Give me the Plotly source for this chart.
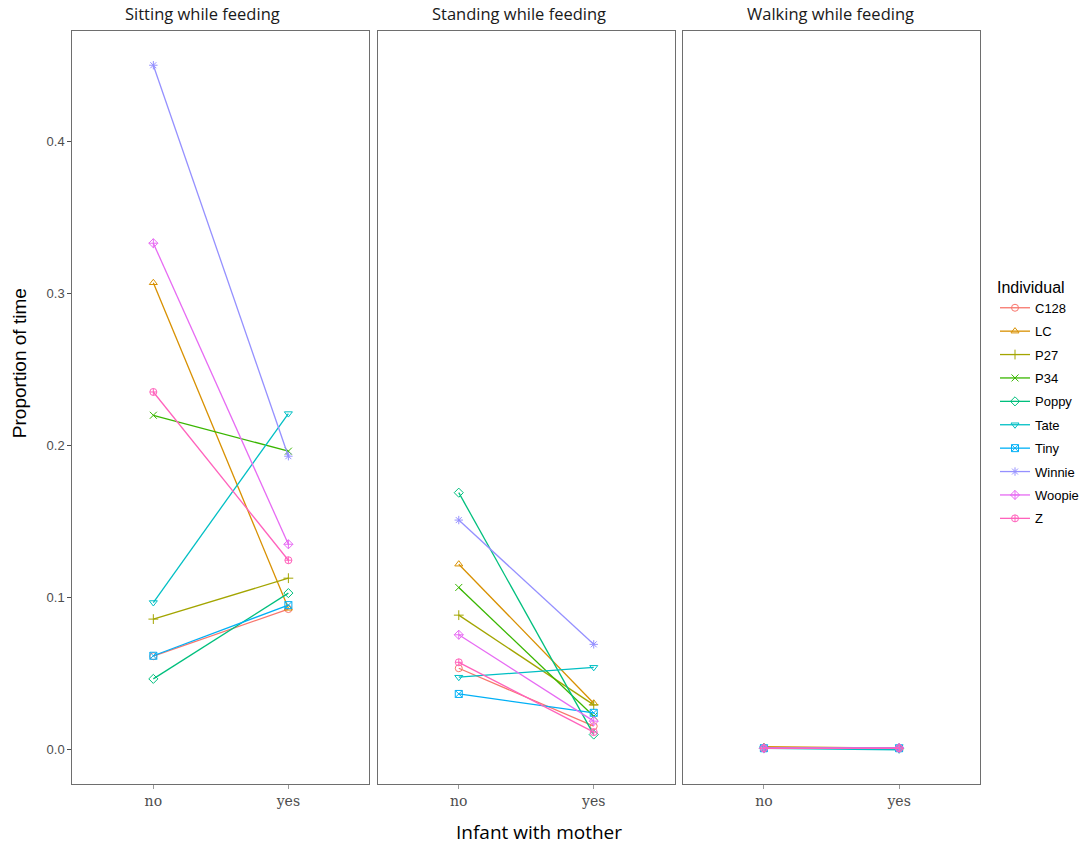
import plotly.graph_objects as go

individuals = ["C128", "LC", "P27", "P34", "Poppy", "Tate", "Tiny", "Winnie", "Woopie", "Z"]
colors = ["#F8766D", "#D89000", "#A3A500", "#39B600", "#00BF7D",
          "#00BFC4", "#00B0F6", "#9590FF", "#E76BF3", "#FF62BC"]
symbols = ["circle-open", "triangle-up-open", "cross-thin-open", "x-thin-open", "diamond-open",
           "triangle-down-open", "square-x-open", "asterisk-open", "diamond-cross-open", "circle-cross-open"]

panels = ["Sitting while feeding", "Standing while feeding", "Walking while feeding"]
infant = ["no", "yes"]
y_ticks = [0.0, 0.1, 0.2, 0.3, 0.4]
y_tick_labels = ["0.0", "0.1", "0.2", "0.3", "0.4"]

# proportion of time [no, yes] per individual
sitting = {
    "C128": [0.0615, 0.0925], "LC": [0.307, 0.093], "P27": [0.0859, 0.1128],
    "P34": [0.2199, 0.1963], "Poppy": [0.0466, 0.103], "Tate": [0.0968, 0.221],
    "Tiny": [0.0618, 0.0951], "Winnie": [0.450, 0.193], "Woopie": [0.333, 0.1351],
    "Z": [0.2352, 0.1246],
}
standing = {
    "C128": [0.0536, 0.0155], "LC": [0.122, 0.0306], "P27": [0.0885, 0.0295],
    "P34": [0.1067, 0.022], "Poppy": [0.169, 0.010], "Tate": [0.0477, 0.0542],
    "Tiny": [0.0367, 0.0243], "Winnie": [0.151, 0.0693], "Woopie": [0.0756, 0.0188],
    "Z": [0.0575, 0.0116],
}
walking = {
    "C128": [0.001, 0.001], "LC": [0.002, 0.001], "P27": [0.001, 0.001],
    "P34": [0.001, 0.001], "Poppy": [0.001, 0.001], "Tate": [0.001, 0.0],
    "Tiny": [0.001, 0.001], "Winnie": [0.001, 0.001], "Woopie": [0.001, 0.0012],
    "Z": [0.001, 0.001],
}
data_sets = [sitting, standing, walking]

fig = go.Figure()

for p, ds in enumerate(data_sets):
    xa = "x" if p == 0 else f"x{p+1}"
    ya = "y" if p == 0 else f"y{p+1}"
    for i, ind in enumerate(individuals):
        fig.add_trace(go.Scatter(
            x=infant, y=ds[ind], mode="lines+markers", name=ind,
            legendgroup=ind, showlegend=(p == 0),
            line=dict(color=colors[i], width=1.3),
            marker=dict(symbol=symbols[i], size=7, color=colors[i], line=dict(width=1, color=colors[i])),
            xaxis=xa, yaxis=ya,
        ))

W, H = 1084, 846
ml, mr, mt, mb = 72, 0, 31, 62
pw = W - ml - mr
ph = H - mt - mb
edges = [(72.3, 370.3), (378.7, 676.5), (684.5, 983.0)]
domains = [[(a - ml) / pw, (b - ml) / pw] for a, b in edges]
title_centers = [203, 520, 833]

axis_line = "#6E6E6E"
tickfont_x = dict(family="DejaVu Serif", size=14, color="#4D4D4D")
tickfont_y = dict(family="Liberation Sans", size=13, color="#4D4D4D")

layout = dict(
    width=W, height=H,
    margin=dict(l=ml, r=mr, t=mt, b=mb),
    paper_bgcolor="white", plot_bgcolor="white",
    showlegend=True,
    legend=dict(
        title=dict(text="Individual", font=dict(family="Liberation Sans", size=16, color="black")),
        font=dict(family="Liberation Sans", size=13, color="black"),
        x=(998 - ml) / pw, xanchor="left", y=(784 - 272) / ph, yanchor="top",
        tracegroupgap=3.5, itemwidth=30, bgcolor="rgba(0,0,0,0)",
    ),
)

for p in range(3):
    key = "" if p == 0 else str(p + 1)
    layout[f"xaxis{key}"] = dict(
        domain=domains[p], type="category", range=[-0.6, 1.6],
        showgrid=False, zeroline=False, showline=True, mirror=True,
        linecolor=axis_line, linewidth=1,
        ticks="outside", ticklen=4, tickcolor="#9A9A9A", tickwidth=1,
        tickfont=tickfont_x, anchor="y" + key, fixedrange=True,
    )
    layout[f"yaxis{key}"] = dict(
        domain=[0, 1], range=[-0.0225, 0.4725],
        showgrid=False, zeroline=False, showline=True, mirror=True,
        linecolor=axis_line, linewidth=1,
        tickvals=y_ticks, ticktext=y_tick_labels,
        ticks="outside" if p == 0 else "", ticklen=4, tickcolor="#4D4D4D",
        showticklabels=(p == 0), tickfont=tickfont_y,
        anchor="x" + key, matches="y" if p > 0 else None,
    )

fig.update_layout(**layout)

ann = []
for p, t in enumerate(panels):
    ann.append(dict(text=t, x=(title_centers[p] - ml) / pw, y=1, xref="paper", yref="paper",
                    yshift=4, showarrow=False, xanchor="center", yanchor="bottom",
                    font=dict(family="Open Sans", size=16.5, color="#1A1A1A")))
ann.append(dict(text="Infant with mother", x=(540 - ml) / pw, y=0,
                xref="paper", yref="paper", yshift=-33, showarrow=False,
                xanchor="center", yanchor="top",
                font=dict(family="Open Sans", size=19, color="black")))
ann.append(dict(text="Proportion of time", x=(19 - ml) / pw, y=(784 - 363) / ph,
                xref="paper", yref="paper", showarrow=False, textangle=-90,
                xanchor="center", yanchor="middle",
                font=dict(family="Liberation Sans", size=19, color="black")))
fig.update_layout(annotations=ann)

fig.write_html("out.html")
